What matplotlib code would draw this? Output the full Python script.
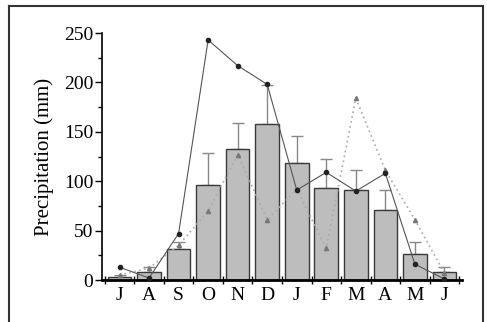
import matplotlib.pyplot as plt
from matplotlib.lines import Line2D
from matplotlib.ticker import MultipleLocator
import numpy as np

# Meses (julio a junio)
months = ["J", "A", "S", "O", "N", "D", "J", "F", "M", "A", "M", "J"]

# Media mensual (barras) y límite superior de la barra de error
mean_precip = [3, 8, 31, 96, 133, 158, 118, 93, 91, 71, 26, 8]
upper_err = [5, 13, 38, 129, 159, 197, 146, 122, 111, 91, 38, 13]

# Año 1 (línea continua, círculos) y año 2 (línea punteada, triángulos)
year_a = [13, 2, 47, 243, 217, 198, 91, 109, 90, 108, 16, 1]
year_b = [5, 12, 35, 70, 127, 61, 92, 32, 184, 111, 61, 7]

plt.rcParams["font.family"] = ["Liberation Serif", "DejaVu Serif"]

fig = plt.figure(figsize=(4.87, 3.22), dpi=100)
ax = fig.add_axes([0.209, 0.1304, 0.74, 0.767])

x = np.arange(len(months))
err = np.array(upper_err) - np.array(mean_precip)

ax.bar(x, mean_precip, width=0.8, color="#bdbdbd", edgecolor="#3a3a3a",
       linewidth=1.0, zorder=2)
ax.errorbar(x, mean_precip, yerr=[np.zeros(len(x)), err], fmt="none",
            ecolor="#888888", elinewidth=1.0, capsize=4, capthick=1.0, zorder=1)

ax.plot(x, year_b, color="#aaaaaa", linestyle=(0, (1, 2)), linewidth=1.2,
        marker="^", markersize=3, markerfacecolor="#777777",
        markeredgecolor="#777777", zorder=3)
ax.plot(x, year_a, color="#555555", linestyle="-", linewidth=0.8,
        marker="o", markersize=3, markerfacecolor="#222222",
        markeredgecolor="#222222", zorder=4)

ax.set_xlim(-0.6, 11.6)
ax.set_ylim(0, 250)

ax.set_xticks(np.arange(-0.5, 12, 1))
ax.set_xticklabels([])
ax.set_xticks(x, minor=True)
ax.set_xticklabels(months, minor=True, fontsize=14)
ax.tick_params(axis="x", which="major", direction="inout", length=6, width=1)
ax.tick_params(axis="x", which="minor", length=0, pad=5)

ax.yaxis.set_major_locator(MultipleLocator(50))
ax.yaxis.set_minor_locator(MultipleLocator(25))
ax.tick_params(axis="y", which="major", direction="out", length=5, width=1,
               labelsize=14, pad=1)
ax.tick_params(axis="y", which="minor", direction="out", length=3, width=1)

ax.spines["top"].set_visible(False)
ax.spines["right"].set_visible(False)
ax.spines["left"].set_linewidth(1.2)
ax.spines["bottom"].set_linewidth(2)

ax.set_ylabel("Precipitation (mm)", fontsize=15, labelpad=7)

# Marco exterior de la figura
frame_color = "#333333"
fig.add_artist(Line2D([9 / 487, 9 / 487], [0, 1 - 6 / 322],
                      transform=fig.transFigure, color=frame_color, lw=1.5))
fig.add_artist(Line2D([9 / 487, 483 / 487], [1 - 6 / 322, 1 - 6 / 322],
                      transform=fig.transFigure, color=frame_color, lw=1.5))
fig.add_artist(Line2D([483 / 487, 483 / 487], [0, 1 - 6 / 322],
                      transform=fig.transFigure, color=frame_color, lw=1.5))

fig.savefig("out.png", dpi=100)
